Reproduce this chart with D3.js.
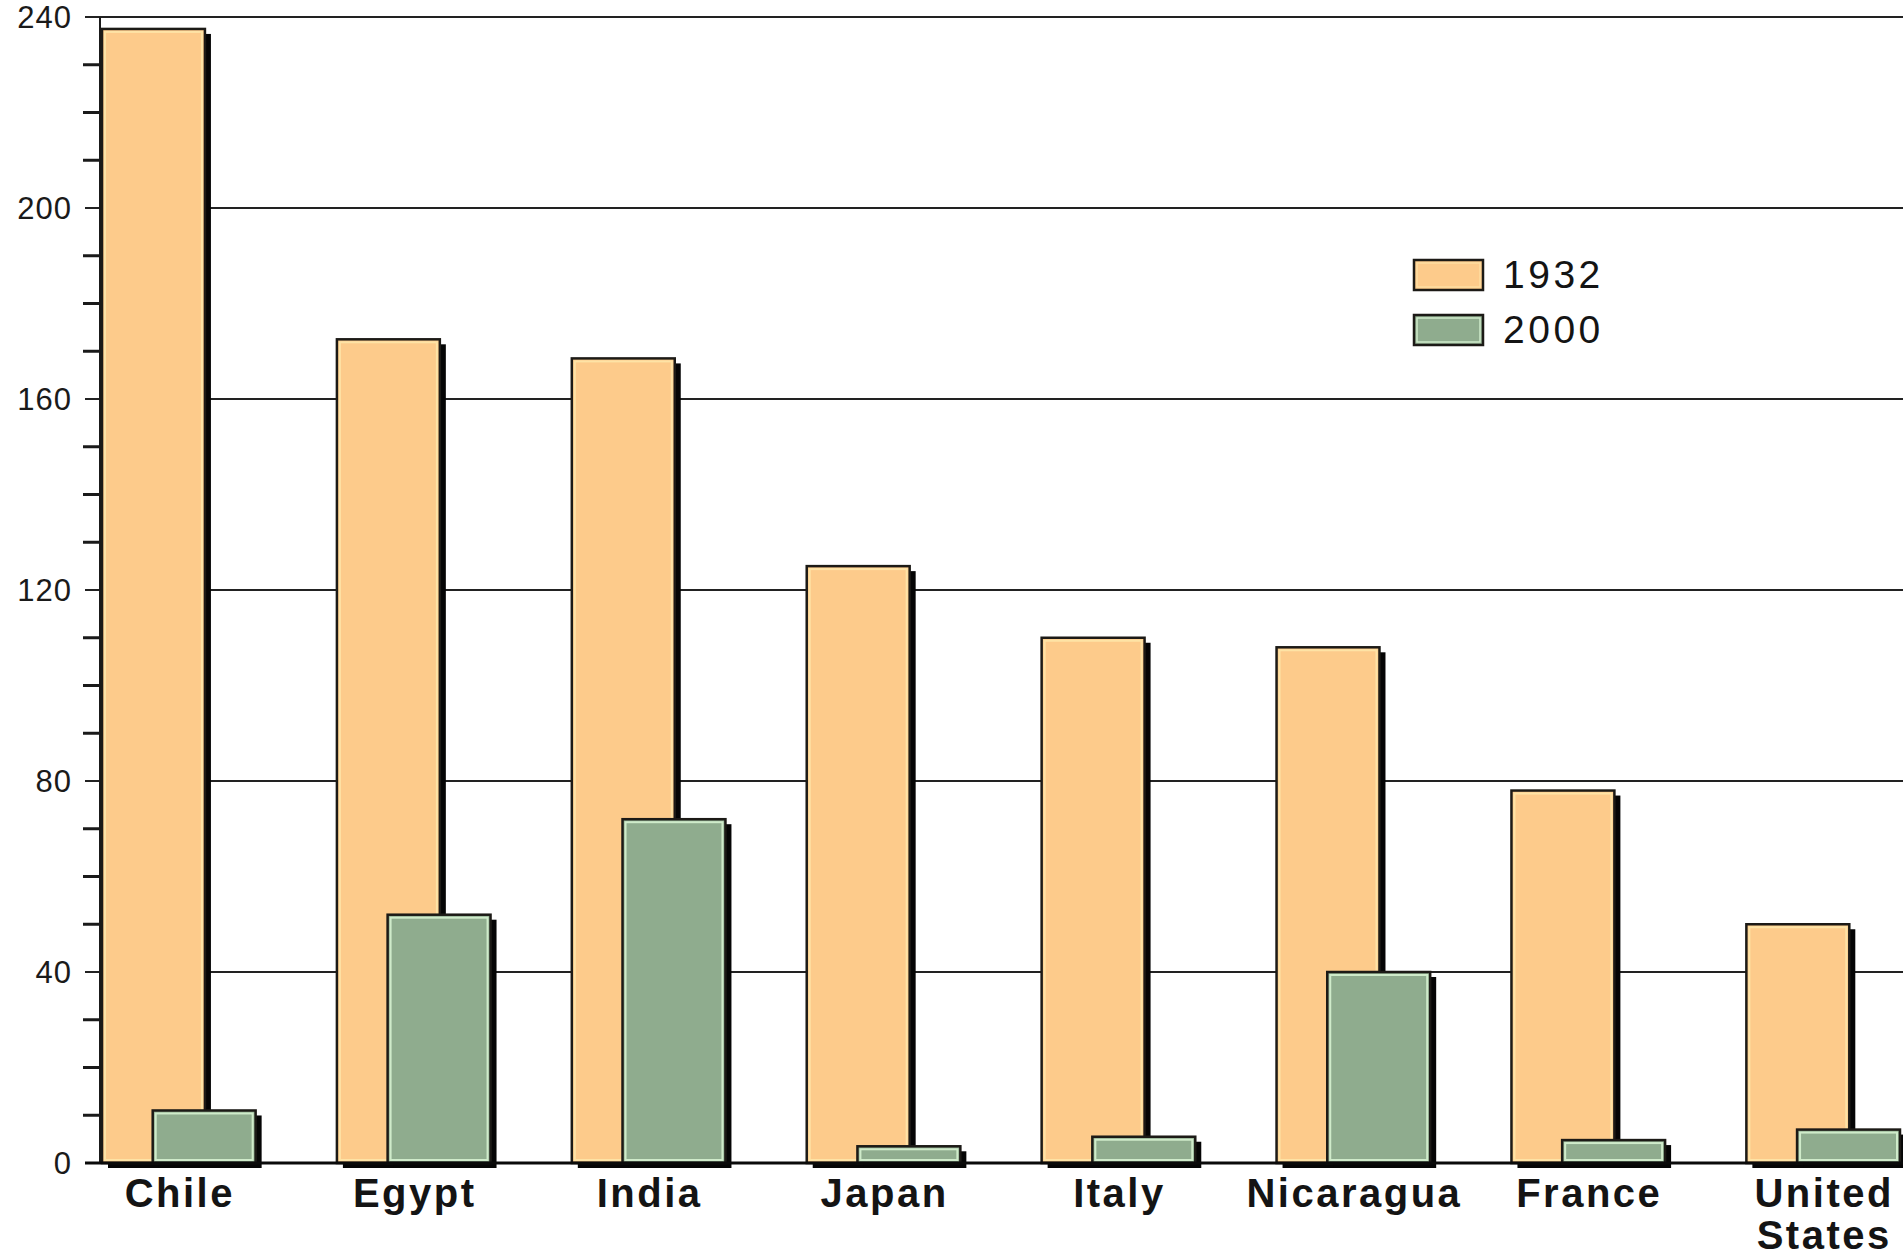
<!DOCTYPE html>
<html lang="en">
  <head>
    <meta charset="utf-8">
    <title>1932 vs 2000 bar chart</title>
    <style type="text/css">
      html, body { margin: 0; padding: 0; background: #fff; }
      svg { display: block; }
    </style>
  </head>
  <body>
    <script type="text/javascript" src="https://d3js.org/d3.v7.min.js"></script>
    <script type="text/javascript">
    // ===================================
    // DATA
    // ===================================
      var categories = ["Chile", "Egypt", "India", "Japan", "Italy", "Nicaragua", "France", "United States"];
      var values1932 = [237.5, 172.5, 168.5, 125, 110, 108, 78, 50];
      var values2000 = [11, 52, 72, 3.5, 5.5, 40, 4.8, 7];
      var seriesNames = ["1932", "2000"];
      var majorTicks = [0, 40, 80, 120, 160, 200, 240];
      var minorTicks = d3.range(0, 241, 10);

    // ===================================
    // LAYOUT
    // ===================================
      var w = 1903, h = 1260;
      var colors = { "1932": "#fdcb8b", "2000": "#8fac8e" };
      var highlight = { "1932": "#fff3b8", "2000": "#d6f2d0" };

      var svg = d3.select("body").append("svg")
        .attr("width", w)
        .attr("height", h)
        .attr("font-family", "'Liberation Sans', Arial, sans-serif");

      var y = d3.scaleLinear().domain([0, 240]).range([1163, 17]);

      var x = d3.scaleBand()
        .domain(categories)
        .range([102, 1900])
        .paddingInner(0.346)
        .paddingOuter(0);

      var barW = x.bandwidth() * 0.67;
      var sub = d3.scaleOrdinal().domain(seriesNames).range([0, x.bandwidth() - barW]);

      // gridlines (behind bars)
      svg.append("g").selectAll("line")
        .data(majorTicks.filter(function(d) { return d > 0; }))
        .enter().append("line")
        .attr("x1", 85).attr("x2", w)
        .attr("y1", function(d) { return y(d); })
        .attr("y2", function(d) { return y(d); })
        .attr("stroke", "#222")
        .attr("stroke-width", 2.2);

      // minor ticks
      svg.append("g").selectAll("line")
        .data(minorTicks.filter(function(d) { return d % 40 !== 0; }))
        .enter().append("line")
        .attr("x1", 83).attr("x2", 100)
        .attr("y1", function(d) { return y(d); })
        .attr("y2", function(d) { return y(d); })
        .attr("stroke", "#1a1a1a")
        .attr("stroke-width", 3);

      // axis line
      svg.append("line")
        .attr("x1", 100).attr("x2", 100)
        .attr("y1", y(240)).attr("y2", y(0))
        .attr("stroke", "#1a1a1a")
        .attr("stroke-width", 2);

      // tick labels
      svg.append("g").selectAll("text")
        .data(majorTicks)
        .enter().append("text")
        .attr("x", 72)
        .attr("y", function(d) { return y(d) + 11; })
        .attr("text-anchor", "end")
        .attr("font-size", 31)
        .attr("letter-spacing", 1)
        .attr("fill", "#1a1a1a")
        .text(function(d) { return d; });

      // bars
      var rows = [];
      categories.forEach(function(c, i) {
        rows.push({ cat: c, s: "1932", v: values1932[i] });
        rows.push({ cat: c, s: "2000", v: values2000[i] });
      });

      var bars = svg.append("g").selectAll("g")
        .data(rows)
        .enter().append("g");

      // shadow
      bars.append("rect")
        .attr("x", function(d) { return x(d.cat) + sub(d.s) + 6; })
        .attr("y", function(d) { return y(d.v) + 5; })
        .attr("width", barW)
        .attr("height", function(d) { return y(0) - y(d.v); })
        .attr("fill", "#050505");

      bars.append("rect")
        .attr("x", function(d) { return x(d.cat) + sub(d.s); })
        .attr("y", function(d) { return y(d.v); })
        .attr("width", barW)
        .attr("height", function(d) { return y(0) - y(d.v); })
        .attr("fill", function(d) { return colors[d.s]; })
        .attr("stroke", "#1c1a16")
        .attr("stroke-width", 2.5);

      // inner highlight
      bars.append("rect")
        .attr("x", function(d) { return x(d.cat) + sub(d.s) + 3; })
        .attr("y", function(d) { return y(d.v) + 3; })
        .attr("width", barW - 6)
        .attr("height", function(d) { return Math.max(0, y(0) - y(d.v) - 6); })
        .attr("fill", "none")
        .attr("stroke", function(d) { return highlight[d.s]; })
        .attr("stroke-width", 2)
        .attr("stroke-opacity", function(d) { return d.s === "2000" ? 0.9 : 0.6; });

      // baseline
      svg.append("line")
        .attr("x1", 85).attr("x2", w)
        .attr("y1", y(0)).attr("y2", y(0))
        .attr("stroke", "#0a0a0a")
        .attr("stroke-width", 3);

      // category labels
      var labels = svg.append("g").selectAll("text")
        .data(categories)
        .enter().append("text")
        .attr("y", 1207)
        .attr("text-anchor", "middle")
        .attr("font-size", 40)
        .attr("letter-spacing", 2.5)
        .attr("font-weight", "bold")
        .attr("fill", "#141414");

      labels.each(function(d) {
        var words = d.split(" ");
        var t = d3.select(this);
        words.forEach(function(wd, i) {
          t.append("tspan")
            .attr("x", x(d) + x.bandwidth() / 2 + 1)
            .attr("dy", i === 0 ? 0 : 42)
            .text(wd);
        });
      });

      // legend
      var legend = svg.append("g").selectAll("g")
        .data(seriesNames)
        .enter().append("g")
        .attr("transform", function(d, i) { return "translate(1414," + (260 + i * 55) + ")"; });

      legend.append("rect")
        .attr("width", 69).attr("height", 30)
        .attr("fill", function(d) { return colors[d]; })
        .attr("stroke", "#1c1a16")
        .attr("stroke-width", 2.5);

      legend.append("rect")
        .attr("x", 3).attr("y", 3)
        .attr("width", 63).attr("height", 24)
        .attr("fill", "none")
        .attr("stroke", function(d) { return highlight[d]; })
        .attr("stroke-width", 1.5)
        .attr("stroke-opacity", function(d) { return d === "2000" ? 0.9 : 0.5; });

      legend.append("text")
        .attr("x", 89)
        .attr("y", 28)
        .attr("font-size", 39)
        .attr("letter-spacing", 3.5)
        .attr("fill", "#141414")
        .text(function(d) { return d; });
    </script>
  </body>
</html>
